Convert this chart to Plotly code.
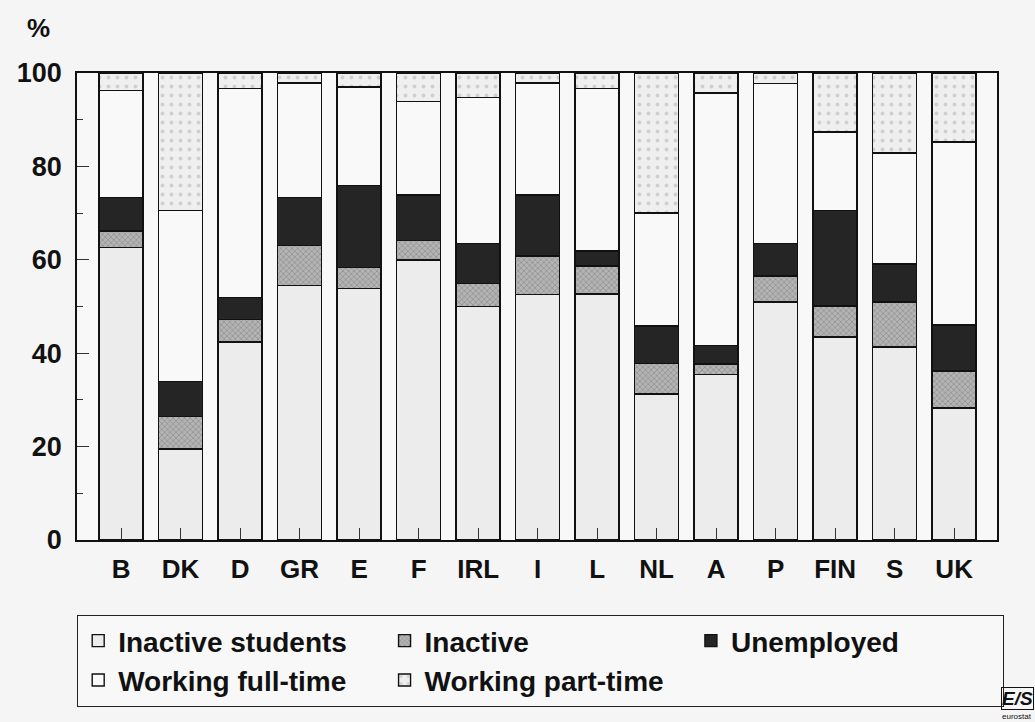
import plotly.graph_objects as go

countries = ["B", "DK", "D", "GR", "E", "F", "IRL", "I", "L", "NL", "A", "P", "FIN", "S", "UK"]
inactive_students = [62.6, 19.5, 42.4, 54.5, 53.9, 60.0, 50.0, 52.6, 52.7, 31.3, 35.4, 51.0, 43.5, 41.3, 28.3]
inactive = [3.6, 7.0, 4.8, 8.5, 4.4, 4.1, 4.9, 8.2, 6.0, 6.5, 2.3, 5.5, 6.6, 9.7, 7.9]
unemployed = [7.1, 7.5, 4.7, 10.3, 17.6, 9.8, 8.6, 13.1, 3.2, 8.0, 4.0, 7.0, 20.4, 8.1, 9.8]
working_full_time = [22.9, 36.5, 44.8, 24.6, 21.1, 20.0, 31.3, 24.0, 34.8, 24.2, 54.0, 34.2, 16.9, 23.8, 39.2]
working_part_time = [3.8, 29.5, 3.3, 2.1, 3.0, 6.1, 5.2, 2.1, 3.3, 30.0, 4.3, 2.3, 12.6, 17.1, 14.8]
y_ticks = [0, 20, 40, 60, 80, 100]

FONT = "Liberation Sans, Arial, sans-serif"
INK = "#111111"

series = [
    ("Inactive students", inactive_students, dict(color="#ececec")),
    ("Inactive", inactive, dict(color="#b4b4b4", pattern=dict(shape="x", fgcolor="#6e6e6e", size=4, solidity=0.35))),
    ("Unemployed", unemployed, dict(color="#252525")),
    ("Working full-time", working_full_time, dict(color="#f9f9f9")),
    ("Working part-time", working_part_time, dict(color="#efefef", pattern=dict(shape=".", fgcolor="#b0b0b0", size=9, solidity=0.15))),
]

fig = go.Figure()
for name, vals, mk in series:
    mk = dict(mk)
    mk["line"] = dict(color=INK, width=1.4)
    fig.add_trace(go.Bar(x=countries, y=vals, name=name, marker=mk, width=0.74))

fig.update_layout(
    barmode="stack",
    width=1035, height=722,
    margin=dict(l=77, r=38, t=73, b=182),
    paper_bgcolor="#f5f5f5",
    plot_bgcolor="#f8f8f8",
    font=dict(family=FONT, size=22, color=INK),
    showlegend=True,
    legend=dict(
        orientation="h",
        x=0.0, xanchor="left",
        y=-0.16, yanchor="top",
        entrywidth=0.333, entrywidthmode="fraction",
        bgcolor="#f8f8f8",
        bordercolor="#222222", borderwidth=1.2,
        font=dict(family=FONT, size=28, color=INK, weight="bold"),
        traceorder="normal",
    ),
)

fig.update_xaxes(
    range=[-0.74, 14.72],
    showline=True, linecolor=INK, linewidth=1.5, mirror=True,
    ticks="inside", ticklen=12, tickcolor="#333333", tickwidth=1,
    ticklabelstandoff=5,
    tickfont=dict(family=FONT, size=26, color=INK, weight="bold"),
    showgrid=False, zeroline=False,
)
fig.update_yaxes(
    range=[0, 100],
    tickvals=y_ticks,
    showline=True, linecolor=INK, linewidth=1.5, mirror=True,
    ticks="inside", ticklen=12, tickcolor="#333333", tickwidth=1,
    ticklabelstandoff=8,
    minor=dict(dtick=10, ticks="inside", ticklen=6, tickcolor="#333333", tickwidth=1, showgrid=False),
    tickfont=dict(family=FONT, size=27, color=INK, weight="bold"),
    showgrid=False, zeroline=False,
)

fig.add_annotation(text="%", xref="paper", yref="paper", x=-0.042, y=1.096,
                   xanchor="center", yanchor="middle",
                   showarrow=False, font=dict(family=FONT, size=26, color=INK, weight="bold"))
fig.add_annotation(text="<b><i>E/S</i></b>", xref="paper", yref="paper", x=1.04, y=-0.365,
                   xanchor="right", yanchor="bottom", showarrow=False,
                   bordercolor=INK, borderwidth=1, borderpad=0,
                   font=dict(family=FONT, size=19, color=INK))
fig.add_annotation(text="eurostat", xref="paper", yref="paper", x=1.04, y=-0.365,
                   xanchor="right", yanchor="top", showarrow=False,
                   font=dict(family=FONT, size=8, color=INK))

fig.write_html("out.html", config={"displayModeBar": False},
               post_script="document.body.style.margin='0';document.body.style.background='#f5f5f5';")
